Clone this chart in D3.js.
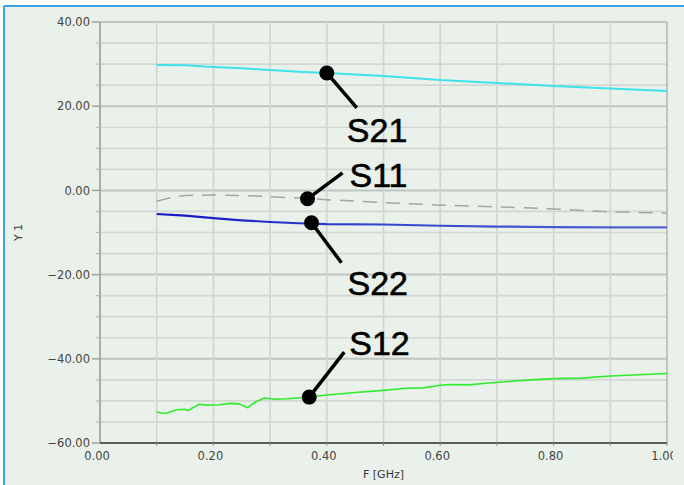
<!DOCTYPE html>
<html><head><meta charset="utf-8">
<script src="https://cdn.jsdelivr.net/npm/d3@7/dist/d3.min.js"></script>
<style>body{margin:0;background:#fff;}svg{display:block}</style>
</head><body>
<svg id="chart" width="684" height="485"></svg>
<script>
// ---- data ----
const xTickValues = [0, 0.2, 0.4, 0.6, 0.8, 1.0];
const yTickValues = [40, 20, 0, -20, -40, -60];
const xTitle = "F [GHz]";
const yTitle = "Y 1";

const s21Freq = [0.1, 0.15, 0.2, 0.25, 0.3, 0.35, 0.4, 0.5, 0.6, 0.7, 0.8, 0.9, 1.0];
const s21Vals = [29.8, 29.7, 29.3, 29.0, 28.6, 28.2, 27.9, 27.2, 26.2, 25.5, 24.8, 24.2, 23.6];

const s11Freq = [0.1, 0.125, 0.15, 0.2, 0.25, 0.3, 0.35, 0.4, 0.5, 0.6, 0.7, 0.8, 0.9, 1.0];
const s11Vals = [-2.6, -1.7, -1.2, -1.1, -1.2, -1.5, -1.8, -2.2, -2.9, -3.5, -3.9, -4.4, -5.1, -5.4];

const s22Freq = [0.1, 0.15, 0.2, 0.25, 0.3, 0.35, 0.4, 0.5, 0.6, 0.7, 0.8, 0.9, 1.0];
const s22Vals = [-5.6, -6.0, -6.6, -7.1, -7.5, -7.8, -8.0, -8.1, -8.4, -8.6, -8.7, -8.8, -8.8];

const s12Freq = [0.1, 0.11, 0.12, 0.135, 0.15, 0.155, 0.165, 0.175, 0.19, 0.21, 0.23, 0.245, 0.26, 0.275, 0.29, 0.31, 0.33, 0.36, 0.4, 0.45, 0.5, 0.54, 0.57, 0.6, 0.62, 0.65, 0.68, 0.72, 0.76, 0.8, 0.85, 0.9, 0.95, 1.0];
const s12Vals = [-52.6, -53.0, -52.8, -52.1, -52.0, -52.3, -51.5, -50.8, -51.0, -50.9, -50.6, -50.7, -51.6, -50.2, -49.3, -49.6, -49.5, -49.2, -48.6, -48.0, -47.5, -47.0, -46.9, -46.3, -46.1, -46.2, -45.8, -45.4, -45.0, -44.7, -44.6, -44.1, -43.8, -43.5];

const annNames = ["S21", "S11", "S22", "S12"];
const annFreq = [0.40, 0.366, 0.373, 0.369];
const annVals = [27.9, -2.0, -7.7, -49.1];

// ---- layout ----
const svg = d3.select("#chart");
const x = d3.scaleLinear().domain([0, 1]).range([100, 667]);
const y = d3.scaleLinear().domain([-60, 40]).range([443, 22]);

// background & frame
svg.append("rect").attr("x", 4).attr("y", 6).attr("width", 680).attr("height", 479).attr("fill", "#e9f1ea");
svg.append("line").attr("x1", 4).attr("x2", 684).attr("y1", 6).attr("y2", 6).attr("stroke", "#3aa6e2").attr("stroke-width", 2);
svg.append("line").attr("x1", 4).attr("x2", 4).attr("y1", 6).attr("y2", 485).attr("stroke", "#3aa6e2").attr("stroke-width", 2);

// grid
const grid = svg.append("g");
const minorY = d3.range(-55, 41, 5);
grid.selectAll(".hy").data(minorY).join("line")
  .attr("x1", x(0)).attr("x2", x(1)).attr("y1", d => y(d)).attr("y2", d => y(d))
  .attr("stroke", d => d % 20 === 0 ? "#c0c4c0" : "#d3d7d3")
  .attr("stroke-width", d => d % 20 === 0 ? 2 : 1.7);
const minorX = d3.range(1, 11).map(i => i / 10);
grid.selectAll(".vx").data(minorX).join("line")
  .attr("x1", d => x(d)).attr("x2", d => x(d)).attr("y1", y(40)).attr("y2", y(-60))
  .attr("stroke", d => d >= 1 ? "#b8bcb8" : "#d2d6d2").attr("stroke-width", 1.7);

// y axis
const yAx = svg.append("g");
yAx.append("line").attr("x1", x(0)).attr("x2", x(0)).attr("y1", y(40)).attr("y2", y(-60)).attr("stroke", "#a9aca9").attr("stroke-width", 2);
yAx.selectAll(".ymt").data(minorY.filter(d => d % 20 !== 0)).join("line")
  .attr("x1", x(0) - 4).attr("x2", x(0)).attr("y1", d => y(d)).attr("y2", d => y(d)).attr("stroke", "#b0b3b0");
yAx.selectAll(".yt").data(yTickValues).join("line")
  .attr("x1", x(0) - 8).attr("x2", x(0)).attr("y1", d => y(d)).attr("y2", d => y(d)).attr("stroke", "#a0a3a0").attr("stroke-width", 1.5);
yAx.selectAll(".yl").data(yTickValues).join("text")
  .attr("x", 90).attr("y", d => y(d)).attr("dy", "0.36em").attr("text-anchor", "end")
  .attr("font-family", "DejaVu Sans").attr("font-size", 11.5).attr("fill", "#444")
  .text(d => d3.format(".2f")(d));

// x axis
const xAx = svg.append("g");
xAx.append("line").attr("x1", x(0)).attr("x2", x(1)).attr("y1", y(-60)).attr("y2", y(-60)).attr("stroke", "#5a5c5a").attr("stroke-width", 2);
xAx.selectAll(".xmt").data(minorX).join("line")
  .attr("x1", d => x(d)).attr("x2", d => x(d)).attr("y1", y(-60)).attr("y2", y(-60) + 3).attr("stroke", "#8a8c8a");
svg.append("clipPath").attr("id", "xclip").append("rect").attr("x", 0).attr("y", 0).attr("width", 673).attr("height", 485);
xAx.append("g").attr("clip-path", "url(#xclip)").selectAll(".xl").data(xTickValues).join("text")
  .attr("x", d => x(d) - 3).attr("y", 460).attr("text-anchor", "middle")
  .attr("font-family", "DejaVu Sans").attr("font-size", 11.5).attr("fill", "#444")
  .text(d => d3.format(".2f")(d));

svg.append("text").attr("x", (x(0) + x(1)) / 2).attr("y", 478).attr("text-anchor", "middle")
  .attr("font-family", "DejaVu Sans").attr("font-size", 11).attr("fill", "#3a3a3a").text(xTitle);
svg.append("text").attr("transform", `translate(22,${(y(40) + y(-60)) / 2}) rotate(-90)`).attr("text-anchor", "middle")
  .attr("font-family", "DejaVu Sans").attr("font-size", 11).attr("fill", "#3a3a3a").text(yTitle);

// curves
const line = d3.line().x(d => x(d[0])).y(d => y(d[1]));
const zip = (a, b) => a.map((v, i) => [v, b[i]]);

const defs = svg.append("defs");
const grad = defs.append("linearGradient").attr("id", "s22g").attr("gradientUnits", "userSpaceOnUse")
  .attr("x1", x(0.1)).attr("x2", x(1)).attr("y1", 0).attr("y2", 0);
grad.append("stop").attr("offset", "0%").attr("stop-color", "#1414c4");
grad.append("stop").attr("offset", "45%").attr("stop-color", "#3646cc");
grad.append("stop").attr("offset", "100%").attr("stop-color", "#5666d2");

svg.append("path").attr("d", line(zip(s11Freq, s11Vals))).attr("fill", "none")
  .attr("stroke", "#a4a6a4").attr("stroke-width", 1.5).attr("stroke-dasharray", "14,9");
svg.append("path").attr("d", line(zip(s21Freq, s21Vals))).attr("fill", "none")
  .attr("stroke", "#3fe2ea").attr("stroke-width", 2);
svg.append("path").attr("d", line(zip(s22Freq, s22Vals))).attr("fill", "none")
  .attr("stroke", "url(#s22g)").attr("stroke-width", 2.2);
svg.append("path").attr("d", line(zip(s12Freq, s12Vals))).attr("fill", "none")
  .attr("stroke", "#2cec2c").attr("stroke-width", 1.6);

// annotations (leader offsets in px relative to marker)
const leadDx = [30, 35, 30, 35], leadDy = [35, -26, 40, -45];
const textDx = [20, 42, 36, 40], textDy = [69, -12, 72, -42];
const ann = svg.append("g");
annNames.forEach((n, i) => {
  const cx = x(annFreq[i]), cy = y(annVals[i]);
  ann.append("line").attr("x1", cx).attr("y1", cy).attr("x2", cx + leadDx[i]).attr("y2", cy + leadDy[i])
    .attr("stroke", "#000").attr("stroke-width", 3.5);
  ann.append("circle").attr("cx", cx).attr("cy", cy).attr("r", 7.5).attr("fill", "#000");
  ann.append("text").attr("x", cx + textDx[i]).attr("y", cy + textDy[i])
    .attr("font-family", "Liberation Sans, Arial, sans-serif").attr("font-size", 34).attr("fill", "#000")
    .attr("stroke", "#000").attr("stroke-width", 0.6).text(n);
});
</script>
</body></html>
